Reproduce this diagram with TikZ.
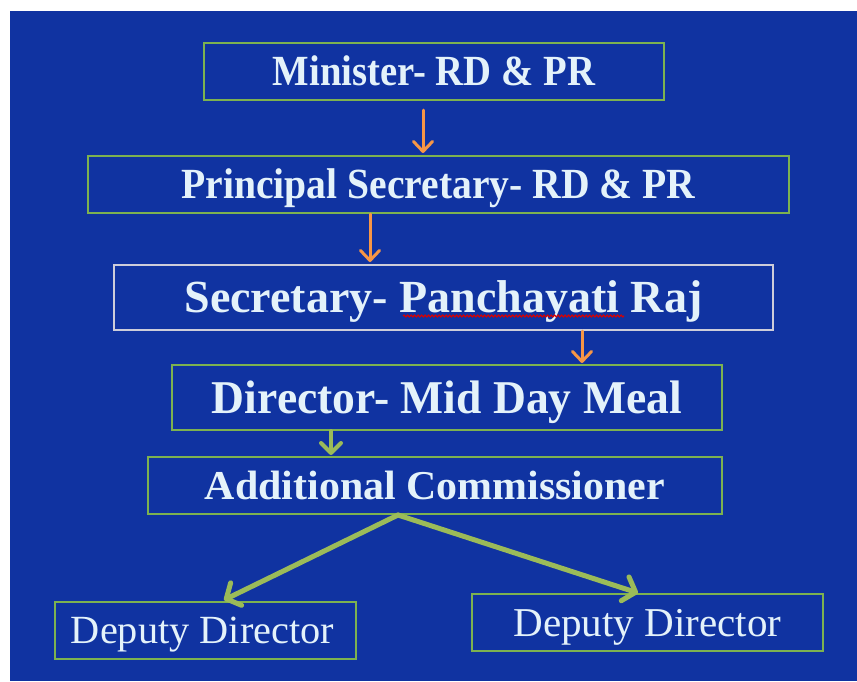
\documentclass[tikz,border=0pt]{standalone}
\usepackage{fontspec}
\setmainfont{Liberation Serif}
\usetikzlibrary{arrows.meta,decorations.pathmorphing}
\definecolor{bgblue}{RGB}{16,51,161}
\definecolor{boxgreen}{RGB}{125,178,80}
\definecolor{arrgreen}{RGB}{155,187,89}
\definecolor{arrorange}{RGB}{247,150,70}
\definecolor{boxgray}{RGB}{205,205,218}
\definecolor{txtcol}{RGB}{228,242,250}
\newcommand\fitw[2]{\resizebox{#1}{\height}{#2}}
\tikzset{
  box/.style={draw=boxgreen, line width=2pt, rectangle, inner sep=0pt,
    text=txtcol, text depth=0pt, align=center},
  oarrow/.style={draw=arrorange, line width=3pt, line cap=round,
    -{Straight Barb[length=10pt,width=19pt,round]}},
  garrow/.style={draw=arrgreen, line width=4pt, line cap=round,
    -{Straight Barb[length=10pt,width=20pt,round]}},
  gdiag/.style={draw=arrgreen, line width=5pt, line cap=round,
    -{Straight Barb[length=11pt,width=25pt,round]}},
}
\begin{document}
\begin{tikzpicture}[x=1pt,y=-1pt]
\useasboundingbox (0,0) rectangle (857,681);
\fill[white] (0,0) rectangle (857,681);
\fill[bgblue] (10,11) rectangle (857,681);

\node[box, minimum width=460pt, minimum height=57pt, text height=28.5pt] (min) at (434,71.5)
  {\fitw{322pt}{\fontsize{43}{45}\selectfont\bfseries Minister- RD \& PR}};
\node[box, minimum width=701pt, minimum height=57pt, text height=28.6pt] (ps) at (438.5,184.5)
  {\fitw{514pt}{\fontsize{43}{45}\selectfont\bfseries Principal Secretary- RD \& PR}};
\node[box, draw=boxgray, minimum width=659pt, minimum height=65pt, text height=30pt] (sec) at (443.5,297.5)
  {\fitw{518pt}{\fontsize{46}{48}\selectfont\bfseries Secretary- Panchayati Raj}};
\node[box, minimum width=550pt, minimum height=65pt, text height=31pt] (dir) at (447,397.5)
  {\fitw{470pt}{\fontsize{47}{49}\selectfont\bfseries Director- Mid Day Meal}};
\node[box, minimum width=574pt, minimum height=57pt, text height=27.3pt] (add) at (435,485.5)
  {\fitw{460pt}{\fontsize{41}{43}\selectfont\bfseries Additional Commissioner}};
\node[box, minimum width=301pt, minimum height=57pt, text height=26.7pt] (dd1) at (205.5,630.5)
  {\hspace*{-6pt}\fitw{263pt}{\fontsize{40}{42}\selectfont Deputy Director}};
\node[box, minimum width=351pt, minimum height=57pt, text height=27pt] (dd2) at (647.5,622.5)
  {\fitw{268pt}{\fontsize{41}{43}\selectfont Deputy Director}};

% spell-check squiggle under "Panchayati"
\coordinate (sq1) at (403,316);
\coordinate (sq2) at (624,316);
\draw[red!85!black, line width=1.1pt, decorate,
  decoration={snake, amplitude=1pt, segment length=3.5pt}] (sq1) -- (sq2);

\coordinate (x1) at (423,0);
\coordinate (x2) at (370,0);
\coordinate (x3) at (582,0);
\coordinate (x4) at (331,0);
\coordinate (x5) at (398,0);
\coordinate (t1) at (224,600);
\coordinate (t2) at (638,593);

\draw[oarrow, shorten <=9pt, shorten >=2pt] (min.south -| x1) -- (ps.north -| x1);
\draw[oarrow, shorten >=2pt] (ps.south -| x2) -- (sec.north -| x2);
\draw[oarrow, shorten >=1pt] (sec.south -| x3) -- (dir.north -| x3);
\draw[garrow, shorten >=1pt] (dir.south -| x4) -- (add.north -| x4);
\draw[gdiag] (add.south -| x5) -- (t1);
\draw[gdiag] (add.south -| x5) -- (t2);
\end{tikzpicture}
\end{document}
